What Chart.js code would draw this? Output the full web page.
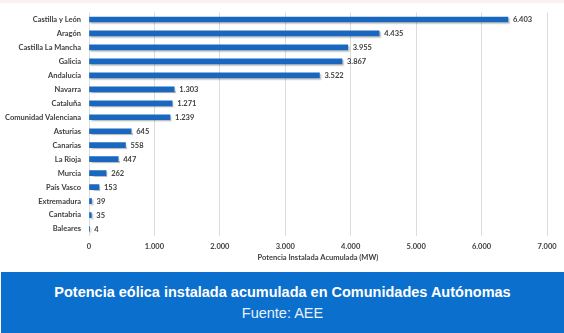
<!DOCTYPE html>
<html>
<head>
<meta charset="utf-8">
<script src="https://cdn.jsdelivr.net/npm/chart.js@4"></script>
<style>
  html,body{margin:0;padding:0;background:#fff;width:564px;height:333px;overflow:hidden;}
  #top{position:absolute;left:0;top:0;width:564px;height:3px;background:#fbf1f1;}
  #wrap{position:absolute;left:0;top:0;width:564px;height:272px;}
  #banner{position:absolute;left:1px;top:272px;width:563px;height:61px;background:#0a6fcd;color:#fff;text-align:center;font-family:"Liberation Sans",Arial,sans-serif;}
  #t1{position:absolute;left:0;right:0;top:12px;font-size:14.5px;font-weight:bold;line-height:17px;}
  #t2{position:absolute;left:0;right:0;top:33px;font-size:14.5px;line-height:17px;color:#e8f1fb;}
</style>
</head>
<body>
<div id="top"></div>
<div id="wrap"><canvas id="c" width="564" height="272"></canvas></div>
<div id="banner"><div id="t1">Potencia eólica instalada acumulada en Comunidades Autónomas</div><div id="t2">Fuente: AEE</div></div>
<script>
const regions = ["Castilla y León","Aragón","Castilla La Mancha","Galicia","Andalucía","Navarra","Cataluña","Comunidad Valenciana","Asturias","Canarias","La Rioja","Murcia","País Vasco","Extremadura","Cantabria","Baleares"];
const potenciaMW = [6403,4435,3955,3867,3522,1303,1271,1239,645,558,447,262,153,39,35,4];
const xTicksMax = 7000;
const xTickStep = 1000;
const xTitle = "Potencia Instalada Acumulada (MW)";

function fmt(n){ return String(Math.round(n)).replace(/\B(?=(\d{3})+(?!\d))/g, "."); }

const labelFont = {family:"Lato, 'Open Sans', sans-serif", size:7.5, weight:'bold'};

const valuePlugin = {
  id:'values',
  beforeDatasetsDraw(chart){
    const ctx = chart.ctx;
    ctx.save();
    ctx.shadowColor = 'rgba(0,0,0,0.25)';
    ctx.shadowOffsetX = 1.5;
    ctx.shadowOffsetY = 1.5;
    ctx.shadowBlur = 1.5;
  },
  afterDatasetsDraw(chart){
    const ctx = chart.ctx;
    ctx.restore();
    ctx.save();
    ctx.font = "bold 7.5px Lato, 'Open Sans', sans-serif";
    ctx.fillStyle = '#404040';
    ctx.textAlign = 'left';
    ctx.textBaseline = 'middle';
    const meta = chart.getDatasetMeta(0);
    meta.data.forEach((bar, i) => {
      ctx.fillText(fmt(chart.data.datasets[0].data[i]), bar.x + 5, bar.y + 0.5);
    });
    ctx.restore();
  }
};

new Chart(document.getElementById('c'), {
  type:'bar',
  data:{
    labels: regions,
    datasets:[{data: potenciaMW, backgroundColor:'#1a67bf', borderWidth:0, barThickness:5}]
  },
  options:{
    indexAxis:'y',
    responsive:false,
    animation:false,
    devicePixelRatio:1,
    layout:{padding:{top:11, right:17, left:0, bottom:0}},
    plugins:{legend:{display:false}, tooltip:{enabled:false}},
    scales:{
      x:{
        min:0, max:xTicksMax,
        grid:{color:'#dcdcdc', drawTicks:false, lineWidth:1},
        border:{display:false},
        ticks:{stepSize:xTickStep, padding:6, color:'#404040', font:labelFont, callback:(v)=>fmt(v)},
        title:{display:true, text:xTitle, color:'#404040', font:labelFont, padding:{top:0,bottom:10}},
        afterFit(s){ s.height = 36; }
      },
      y:{
        grid:{display:false, drawTicks:false},
        border:{display:false},
        ticks:{padding:8, color:'#404040', font:labelFont, autoSkip:false},
        afterFit(s){ s.width = 89; }
      }
    }
  },
  plugins:[valuePlugin]
});
</script>
</body>
</html>
